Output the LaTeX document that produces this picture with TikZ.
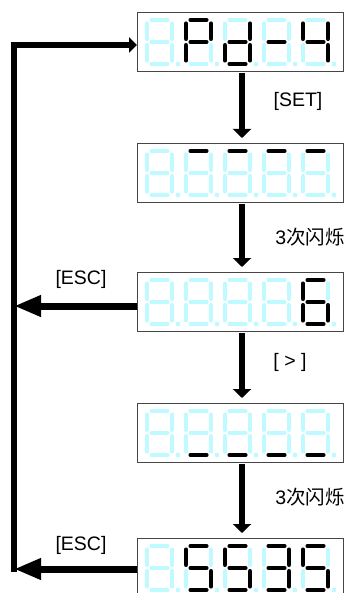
\documentclass[tikz,border=0pt]{standalone}
\usepackage{fontspec}
\setmainfont{Liberation Sans}
\newfontfamily\cjk{Noto Sans CJK SC}
\usetikzlibrary{arrows.meta}
\definecolor{segc}{RGB}{190,250,255}
\definecolor{boxc}{RGB}{70,70,70}
\tikzset{
 seg/.style={line width=4.8pt, line cap=round},
 s0/.style={color=segc},
 s1/.style={color=black},
 disp/.style={draw=boxc, line width=0.9pt, minimum width=206pt, minimum height=59pt, inner sep=0pt, outer sep=0pt, anchor=north west},
 varr/.style={line width=6pt, -{Triangle[length=9pt,width=18pt]}, shorten <=2pt, shorten >=5pt},
 harr/.style={line width=7pt, -{Triangle[length=27pt,width=20pt]}},
 loopline/.style={line width=5.5pt, -{Triangle[length=8pt,width=15pt]}},
 lbl/.style={font=\fontsize{19.5}{22}\selectfont, inner sep=0pt},
}
% seven-segment digit: position, then flags a b c d e f g (1 = lit black)
\newcommand\sdig[8]{%
 \begin{scope}[shift={(#1)}]
  \draw[seg,s#2] (4.8,0)--(20.2,0);
  \draw[seg,s#3] (25,3.8)--(25,18.6);
  \draw[seg,s#4] (25,25.4)--(25,40.2);
  \draw[seg,s#5] (4.8,44)--(20.2,44);
  \draw[seg,s#6] (0,25.4)--(0,40.2);
  \draw[seg,s#7] (0,3.8)--(0,18.6);
  \draw[seg,s#8] (4.8,22)--(20.2,22);
  \fill[segc] (31,44) circle (2.4pt);
 \end{scope}}
\begin{document}
\begin{tikzpicture}[x=1pt,y=-1pt]
\useasboundingbox (0,0) rectangle (352,593);
\clip (0,0) rectangle (352,593);
% displays
\node[disp] (d1) at (137,12) {};
\node[disp] (d2) at (137,143) {};
\node[disp] (d3) at (137,272) {};
\node[disp] (d4) at (137,403) {};
\node[disp] (d5) at (137,538) {};
% display 1: 8 P d - 4
\sdig{147,20}{0}{0}{0}{0}{0}{0}{0}
\sdig{186,20}{1}{1}{0}{0}{1}{1}{1}
\sdig{225,20}{0}{1}{1}{1}{1}{0}{1}
\sdig{264,20}{0}{0}{0}{0}{0}{0}{1}
\sdig{303,20}{0}{1}{1}{0}{0}{1}{1}
% display 2: top bars
\sdig{147,151}{0}{0}{0}{0}{0}{0}{0}
\sdig{186,151}{1}{0}{0}{0}{0}{0}{0}
\sdig{225,151}{1}{0}{0}{0}{0}{0}{0}
\sdig{264,151}{1}{0}{0}{0}{0}{0}{0}
\sdig{303,151}{1}{0}{0}{0}{0}{0}{0}
% display 3: 6
\sdig{147,280}{0}{0}{0}{0}{0}{0}{0}
\sdig{186,280}{0}{0}{0}{0}{0}{0}{0}
\sdig{225,280}{0}{0}{0}{0}{0}{0}{0}
\sdig{264,280}{0}{0}{0}{0}{0}{0}{0}
\sdig{303,280}{1}{0}{1}{1}{1}{1}{1}
% display 4: bottom bars
\sdig{147,411}{0}{0}{0}{0}{0}{0}{0}
\sdig{186,411}{0}{0}{0}{1}{0}{0}{0}
\sdig{225,411}{0}{0}{0}{1}{0}{0}{0}
\sdig{264,411}{0}{0}{0}{1}{0}{0}{0}
\sdig{303,411}{0}{0}{0}{1}{0}{0}{0}
% display 5: 5 5 3 5
\sdig{147,546}{0}{0}{0}{0}{0}{0}{0}
\sdig{186,546}{1}{0}{1}{1}{0}{1}{1}
\sdig{225,546}{1}{0}{1}{1}{0}{1}{1}
\sdig{264,546}{1}{1}{1}{1}{0}{0}{1}
\sdig{303,546}{1}{0}{1}{1}{0}{1}{1}
% vertical arrows
\draw[varr] ([xshift=2pt]d1.south) -- ([xshift=2pt]d2.north);
\draw[varr] ([xshift=2pt]d2.south) -- ([xshift=2pt]d3.north);
\draw[varr] ([xshift=2pt]d3.south) -- ([xshift=2pt]d4.north);
\draw[varr] ([xshift=2pt]d4.south) -- ([xshift=2pt]d5.north);
% return loop
\coordinate (Lx) at (14,0);
\coordinate (Lbot) at (14,572);
\draw[loopline] (Lbot) -- ([yshift=-3.5pt]d1.west -| Lx) -- ([yshift=-3.5pt]d1.west);
\draw[harr] ([yshift=-4.5pt]d3.west) -- ([yshift=-4.5pt]d3.west -| Lx);
\draw[harr] ([yshift=-1.5pt]d5.west) -- ([yshift=-1.5pt]d5.west -| Lx);
% labels
\node[lbl] (set) at (298,101) {[SET]};
\node[lbl] (f1) at (310,237) {3{\cjk 次闪烁}};
\node[lbl] (esc1) at (81,279) {[ESC]};
\node[lbl] (gt) at (290,362) {[ > ]};
\node[lbl] (f2) at (310,497) {3{\cjk 次闪烁}};
\node[lbl] (esc2) at (81,545) {[ESC]};
\end{tikzpicture}
\end{document}
